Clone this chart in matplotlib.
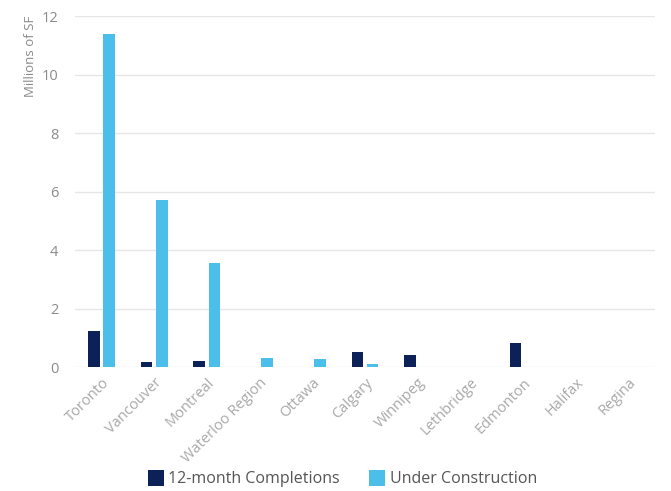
import numpy as np
import matplotlib
matplotlib.use("Agg")
import matplotlib.pyplot as plt

cities = ["Toronto", "Vancouver", "Montreal", "Waterloo Region", "Ottawa", "Calgary",
          "Winnipeg", "Lethbridge", "Edmonton", "Halifax", "Regina"]
completions = [1.23, 0.18, 0.20, 0.0, 0.0, 0.53, 0.41, 0.0, 0.81, 0.0, 0.0]
under_construction = [11.38, 5.70, 3.55, 0.32, 0.26, 0.12, 0.0, 0.0, 0.0, 0.0, 0.0]

plt.rcParams['font.family'] = ['Open Sans', 'DejaVu Sans']
text_gray = "#8a8a8a"

fig = plt.figure(figsize=(6.71, 4.91), dpi=100)
ax = fig.add_axes([0.112, 0.2525, 0.864, 0.7145])

x = np.arange(len(cities))
w = 0.22
ax.bar(x - 0.145, completions, w, color="#0c2157", label="12-month Completions", zorder=3)
ax.bar(x + 0.145, under_construction, w, color="#4bbfea", label="Under Construction", zorder=3)

ax.set_xlim(-0.5, len(cities) - 0.5)
ax.set_ylim(0, 12)
ax.set_yticks(range(0, 13, 2))
ax.yaxis.grid(True, color="#e6e6e6", linewidth=1, zorder=0)
for s in ax.spines.values():
    s.set_visible(False)
ax.tick_params(axis="both", length=0, colors=text_gray, labelsize=10.5)
ax.tick_params(axis="y", pad=12)
ax.tick_params(axis="x", pad=6)
ax.set_xticks(x)
ax.set_xticklabels(cities, rotation=45, ha="right", rotation_mode="anchor", color="#a8a8a8")
ax.set_ylabel("Millions of SF", color=text_gray, fontsize=9.5, loc="top")
ax.yaxis.set_label_coords(-0.065, 1.0)

fig.legend(loc="lower center", ncol=2, frameon=False, bbox_to_anchor=(0.51, -0.022),
           fontsize=11.5, handlelength=1.0, handleheight=1.1, columnspacing=1.8,
           handletextpad=0.3, labelcolor="#555555")

fig.savefig("out.png", dpi=100)
